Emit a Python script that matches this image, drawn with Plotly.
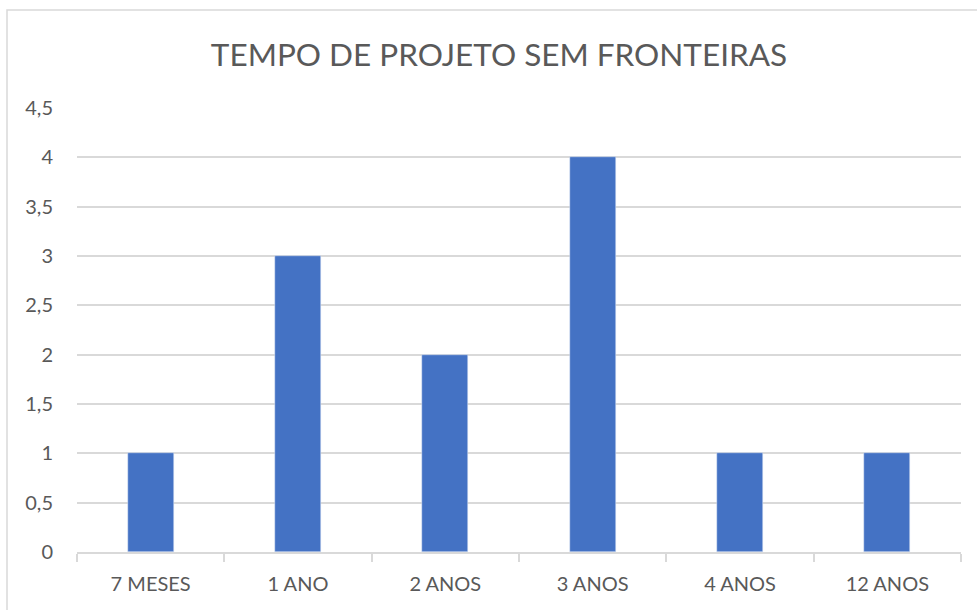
import plotly.graph_objects as go

categories = ["7 MESES", "1 ANO", "2 ANOS", "3 ANOS", "4 ANOS", "12 ANOS"]
values = [1, 3, 2, 4, 1, 1]
y_ticks = [0, 0.5, 1, 1.5, 2, 2.5, 3, 3.5, 4, 4.5]
title_text = "TEMPO DE PROJETO SEM FRONTEIRAS"

FONT = "Lato"
TXT = "#595959"
GRID = "#d9d9d9"

fig = go.Figure(go.Bar(x=categories, y=values, marker_color="#4472C4", width=0.312))

fig.update_layout(
    width=977, height=610,
    margin=dict(l=77, r=16, t=108, b=58),
    paper_bgcolor="white", plot_bgcolor="white",
    separators=",.",
    showlegend=False,
    font=dict(family=FONT, color=TXT),
    title=dict(text=title_text, x=499/977, xref="container", xanchor="center",
               y=1-55/610, yref="container", yanchor="middle",
               font=dict(family=FONT, size=31.5, color=TXT)),
    bargap=0,
)
fig.update_xaxes(type="category", showline=True, linecolor=GRID, linewidth=1.5,
                 ticks="outside", tickson="boundaries", ticklen=8, tickcolor=GRID,
                 tickwidth=1.5, showgrid=False, ticklabelstandoff=13,
                 tickfont=dict(size=20, color=TXT))
fig.update_yaxes(range=[0, 4.5], tickvals=y_ticks, showgrid=True, gridcolor=GRID,
                 gridwidth=1.5, zeroline=False, showline=False, ticks="",
                 ticklabelstandoff=23, tickfont=dict(size=20, color=TXT))

# chart frame (cropped at right and bottom in reference)
fig.add_shape(type="rect", xref="paper", yref="paper",
              x0=(7-77)/884, x1=1.2, y0=-0.3, y1=(552-10)/444,
              line=dict(color=GRID, width=1.5), fillcolor="rgba(0,0,0,0)", layer="below")

fig.write_html("out.html", config={"displayModeBar": False},
               post_script="document.body.style.margin='0';")
